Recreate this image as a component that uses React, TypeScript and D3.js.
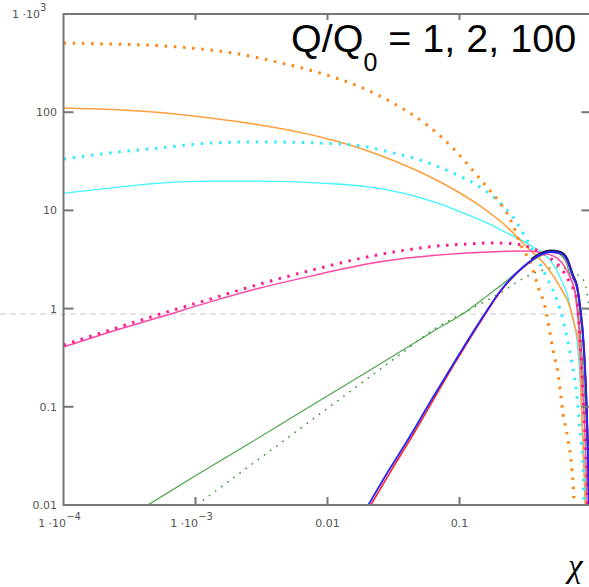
import React, { useRef, useEffect } from "react";
import { select, scaleLog, line, curveMonotoneX } from "d3";

const W = 589;
const H = 587;

// ticks
const xTicks = [1e-4, 1e-3, 0.01, 0.1];
const xTickLabels = [["1 ·10", "−4"], ["1 ·10", "−3"], ["0.01"], ["0.1"]];
const yTicks = [0.01, 0.1, 1, 10, 100, 1000];
const yTickLabels = [["0.01"], ["0.1"], ["1"], ["10"], ["100"], ["1 ·10", "3"]];
const refLevel = 0.88;

// curves, [x, y]
const orangeDotted = [
  [1e-4, 507], [2.25e-4, 494], [5.4e-4, 475], [1.29e-3, 430], [1.92e-3, 401], [4.14e-3, 324],
  [7.76e-3, 263], [0.0176, 181], [0.0313, 124], [0.0568, 74], [0.0893, 43], [0.12, 27.7],
  [0.161, 17.3], [0.203, 11.9], [0.25, 7.45], [0.287, 4.66], [0.354, 2.65], [0.394, 1.66],
  [0.445, 1.04], [0.485, 0.565], [0.511, 0.378], [0.557, 0.221], [0.608, 0.0865],
  [0.664, 0.0459], [0.711, 0.0227], [0.736, 0.0105], [0.74, 0.008],
];
const orangeSolid = [
  [1e-4, 110.4], [2.37e-4, 106.5], [5.4e-4, 99.3], [1.29e-3, 87.3], [3.08e-3, 74.1],
  [5.48e-3, 64.4], [8.8e-3, 56], [0.0156, 45.3], [0.0282, 34.2], [0.0502, 24.6],
  [0.0893, 16.5], [0.143, 11.1], [0.229, 6.78], [0.287, 5.0], [0.324, 4.24], [0.46, 2.65],
  [0.577, 1.66], [0.687, 1.04], [0.75, 0.65], [0.791, 0.479], [0.818, 0.3], [0.847, 0.073],
  [0.877, 0.0227], [0.893, 0.01], [0.895, 0.008],
];
const cyanDotted = [
  [1e-4, 33.3], [2.25e-4, 38.5], [5.4e-4, 43.2], [1.29e-3, 48.5], [3.08e-3, 49.8],
  [8.8e-3, 48.5], [0.0176, 45.5], [0.0313, 38.5], [0.0502, 32.6], [0.0893, 24], [0.143, 17.3],
  [0.203, 11.9], [0.273, 7.45], [0.324, 5.0], [0.394, 3.13], [0.468, 1.95], [0.548, 1.22],
  [0.608, 0.766], [0.652, 0.514], [0.711, 0.279], [0.776, 0.126], [0.818, 0.058],
  [0.863, 0.0227], [0.877, 0.01], [0.88, 0.008],
];
const cyanSolid = [
  [1e-4, 15.0], [2.25e-4, 16.9], [5.4e-4, 19.0], [1.29e-3, 19.9], [3.08e-3, 19.9],
  [8.8e-3, 19.0], [0.021, 17.3], [0.0373, 15.0], [0.0676, 11.9], [0.106, 9.42], [0.161, 7.45],
  [0.229, 5.89], [0.361, 4.24], [0.485, 3.13], [0.577, 2.1], [0.664, 1.31], [0.724, 0.766],
  [0.776, 0.479], [0.818, 0.2], [0.863, 0.05], [0.908, 0.01], [0.91, 0.008],
];
const pinkSolid = [
  [1e-4, 0.406], [2.25e-4, 0.578], [5.4e-4, 0.82], [1.29e-3, 1.17], [3.08e-3, 1.62],
  [8.8e-3, 2.25], [0.0199, 2.85], [0.0354, 3.2], [0.063, 3.47], [0.114, 3.68], [0.324, 3.86],
  [0.43, 3.68], [0.548, 3.27], [0.63, 2.65], [0.687, 2.1], [0.75, 1.44],
  [0.791, 0.766], [0.847, 0.2], [0.893, 0.05], [0.925, 0.01], [0.927, 0.008],
];
const pinkDotted = [
  [1e-4, 0.426], [2.25e-4, 0.605], [5.4e-4, 0.88], [1.29e-3, 1.25], [3.08e-3, 1.78],
  [8.8e-3, 2.59], [0.0199, 3.35], [0.0354, 3.86], [0.063, 4.29], [0.114, 4.55], [0.179, 4.66],
  [0.242, 4.6], [0.324, 4.3], [0.45, 3.5], [0.577, 2.65], [0.687, 1.82],
  [0.776, 1.22], [0.818, 0.5], [0.863, 0.126], [0.908, 0.032], [0.933, 0.01], [0.935, 0.008],
];
const greenSolid = [
  [4.37e-4, 0.01], [1.08e-3, 0.0212], [2.59e-3, 0.0428], [6.2e-3, 0.0875], [0.0199, 0.226],
  [0.063, 0.585], [0.114, 0.946], [0.161, 1.34], [0.203, 1.7], [0.287, 2.47], [0.386, 3.27],
  [0.485, 3.77], [0.548, 3.68], [0.63, 3.13], [0.7, 2.0], [0.776, 1.2], [0.82, 0.6],
  [0.87, 0.2], [0.92, 0.05], [0.95, 0.01], [0.952, 0.008],
];
const greenDotted = [
  [1.02e-3, 0.01], [2.59e-3, 0.0252], [6.2e-3, 0.06], [0.0199, 0.192], [0.0354, 0.341],
  [0.063, 0.605], [0.114, 0.944], [0.203, 1.44], [0.342, 2.2], [0.577, 2.65], [0.724, 2.31],
  [0.847, 2.05], [0.925, 1.44], [1.0, 0.63],
];
const blue = [
  [0.0204, 0.01], [0.0297, 0.0235], [0.04, 0.0445], [0.063, 0.125], [0.0893, 0.27],
  [0.126, 0.57], [0.161, 0.95], [0.203, 1.5], [0.303, 2.65], [0.407, 3.52], [0.485, 3.77],
  [0.577, 3.68], [0.652, 3.13], [0.724, 2.1], [0.776, 1.66], [0.818, 1.04], [0.877, 0.378],
  [0.925, 0.073], [0.957, 0.01], [0.958, 0.008],
];
const red = [
  [0.0213, 0.01], [0.031, 0.0235], [0.0415, 0.0445], [0.065, 0.125], [0.091, 0.27],
  [0.128, 0.57], [0.163, 0.95], [0.205, 1.5], [0.305, 2.65], [0.407, 3.5], [0.485, 3.75],
  [0.577, 3.66], [0.652, 3.1], [0.724, 2.08], [0.776, 1.63], [0.818, 1.0], [0.877, 0.36],
  [0.925, 0.07], [0.957, 0.01], [0.958, 0.008],
];
const black = [
  [0.35, 3.2], [0.407, 3.62], [0.485, 3.9], [0.577, 3.8], [0.652, 3.25], [0.724, 2.2],
  [0.776, 1.72], [0.818, 1.08], [0.877, 0.39], [0.925, 0.075], [0.957, 0.01], [0.958, 0.008],
];

export default function App() {
  const gRef = useRef(null);

  useEffect(() => {
    const svg = select(gRef.current);
    svg.selectAll("*").remove();

    const left = 63.5, right = 591.5, top = 14, bottom = 505;
    const xScale = scaleLog().domain([1e-4, 1]).range([left, right]);
    const yScale = scaleLog().domain([0.01, 1000]).range([bottom, top]);

    const axisColor = "#777";
    const labelColor = "#555";

    svg.append("defs").append("clipPath").attr("id", "plotclip")
      .append("rect").attr("x", left).attr("y", top)
      .attr("width", right - left).attr("height", bottom - top);

    // reference dashed line
    svg.append("line")
      .attr("x1", 0).attr("x2", W)
      .attr("y1", yScale(refLevel)).attr("y2", yScale(refLevel))
      .attr("stroke", "#c8c8c8").attr("stroke-width", 1)
      .attr("stroke-dasharray", "6 4");

    const series = [
      { data: greenDotted, color: "#3c963c", width: 1.6, dash: "1.6 6" },
      { data: greenSolid, color: "#4ca64c", width: 1.2, dash: null },
      { data: cyanSolid, color: "#3ff4ff", width: 1.3, dash: null },
      { data: orangeSolid, color: "#ffa040", width: 1.6, dash: null },
      { data: cyanDotted, color: "#30ecff", width: 3, dash: "2.5 6.7" },
      { data: orangeDotted, color: "#ff8410", width: 3, dash: "2.5 6.7" },
      { data: pinkSolid, color: "#ff4aa5", width: 1.5, dash: null },
      { data: pinkDotted, color: "#ff1a8c", width: 3, dash: "2.5 6.5" },
      { data: black, color: "#1c1c44", width: 2, dash: null },
      { data: red, color: "#ff2020", width: 1.6, dash: null },
      { data: blue, color: "#2222ff", width: 1.8, dash: null },
    ];

    const gen = line()
      .x(d => xScale(d[0]))
      .y(d => yScale(d[1]))
      .curve(curveMonotoneX);

    const plot = svg.append("g").attr("clip-path", "url(#plotclip)");
    series.forEach(s => {
      plot.append("path")
        .attr("d", gen(s.data))
        .attr("fill", "none")
        .attr("stroke", s.color)
        .attr("stroke-width", s.width)
        .attr("stroke-dasharray", s.dash)
        .attr("stroke-linejoin", "round");
    });

    // frame
    const frame = svg.append("g").attr("stroke", axisColor).attr("stroke-width", 2);
    frame.append("line").attr("x1", left).attr("x2", left).attr("y1", top - 1).attr("y2", bottom + 1);
    frame.append("line").attr("x1", left).attr("x2", right).attr("y1", bottom).attr("y2", bottom);
    frame.append("line").attr("x1", left).attr("x2", right).attr("y1", top).attr("y2", top);
    frame.append("line").attr("x1", right).attr("x2", right).attr("y1", top).attr("y2", bottom);

    xTicks.forEach((t, i) => {
      const x = xScale(t);
      if (i > 0) {
        frame.append("line").attr("x1", x).attr("x2", x).attr("y1", bottom).attr("y2", bottom - 8);
        frame.append("line").attr("x1", x).attr("x2", x).attr("y1", top).attr("y2", top + 6);
      }
      const lab = xTickLabels[i];
      const txt = svg.append("text")
        .attr("x", x - (lab.length > 1 ? 4 : 0)).attr("y", 527)
        .attr("text-anchor", "middle")
        .attr("font-family", "DejaVu Sans, Verdana, sans-serif")
        .attr("font-size", 11).attr("fill", labelColor);
      txt.append("tspan").text(lab[0]);
      if (lab.length > 1) {
        txt.append("tspan").attr("dy", -7).attr("font-size", 10).text(lab[1]);
      }
    });

    yTicks.forEach((t, i) => {
      const y = yScale(t);
      if (i > 0 && i < yTicks.length - 1) {
        frame.append("line").attr("x1", left).attr("x2", left + 10).attr("y1", y).attr("y2", y);
        frame.append("line").attr("x1", right).attr("x2", right - 10).attr("y1", y).attr("y2", y);
      }
      const lab = yTickLabels[i];
      const txt = svg.append("text")
        .attr("x", lab.length > 1 ? 12 : 57).attr("y", y + 4)
        .attr("text-anchor", lab.length > 1 ? "start" : "end")
        .attr("font-family", "DejaVu Sans, Verdana, sans-serif")
        .attr("font-size", 11).attr("fill", labelColor);
      txt.append("tspan").text(lab[0]);
      if (lab.length > 1) {
        txt.append("tspan").attr("dy", -7).attr("font-size", 10).text(lab[1]);
      }
    });
  }, []);

  return (
    <svg width={W} height={H}
      style={{ position: "absolute", left: 0, top: 0, background: "#fff" }}>
      <g ref={gRef} />
      <text x={291} y={52} fontFamily="Liberation Sans, Arial, sans-serif" fontSize={39.5} fill="#000">
        Q/Q<tspan dy={19} fontSize={25}>0</tspan><tspan dy={-19}> = 1, 2, 100</tspan>
      </text>
      <text x={568} y={577} fontFamily="Liberation Serif, Times New Roman, serif" fontStyle="italic"
        fontSize={33} fill="#000">χ</text>
    </svg>
  );
}
